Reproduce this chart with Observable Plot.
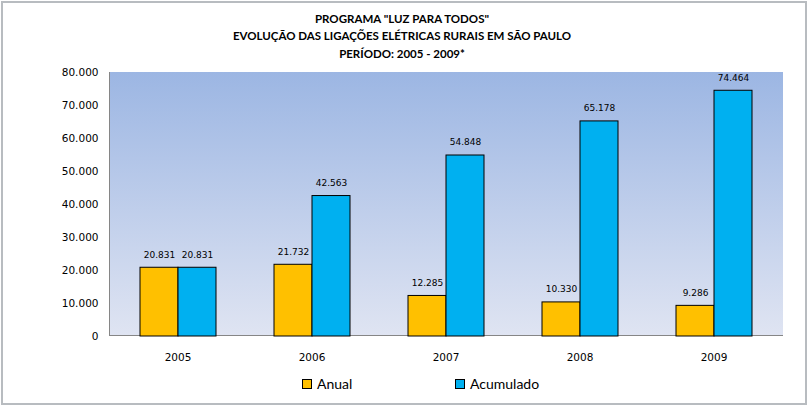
<!DOCTYPE html>
<html>
<head>
<meta charset="utf-8">
<script src="https://cdn.jsdelivr.net/npm/d3@7"></script>
<script src="https://cdn.jsdelivr.net/npm/@observablehq/plot@0.6"></script>
<style>
  html, body { margin: 0; padding: 0; background: #fff; }
  #wrap { position: relative; width: 809px; height: 407px; overflow: hidden; }
  #border { position: absolute; left: 1px; top: 1px; width: 806px; height: 404px; box-sizing: border-box; border: 2px solid #b8bcc0; }
  #title { position: absolute; left: 0; top: 10px; width: 804px; text-align: center;
           font-family: Lato, "Liberation Sans", sans-serif; font-weight: bold; font-size: 11.5px; line-height: 17.3px; color: #000; }
  #bg { position: absolute; left: 109px; top: 72px; width: 674px; height: 264px;
        background: linear-gradient(to bottom, #9cb6e3, #dfe4f2);
        border-left: 1px solid #868686; border-bottom: 1px solid #868686; box-sizing: border-box; }
  #chart { position: absolute; left: 0; top: 62px; }
  .leg { position: absolute; top: 375px; font-family: Lato, "Liberation Sans", sans-serif; font-size: 14px; color: #000; display: flex; align-items: center; }
  .sw { width: 8px; height: 8px; border: 1px solid #000; margin-right: 5px; }
</style>
</head>
<body>
<div id="wrap">
  <div id="border"></div>
  <div id="title">PROGRAMA "LUZ PARA TODOS"<br>EVOLUÇÃO DAS LIGAÇÕES ELÉTRICAS RURAIS EM SÃO PAULO<br>PERÍODO: 2005 - 2009*</div>
  <div id="bg"></div>
  <div id="chart"></div>
  <div id="legend"></div>
</div>
<script>
const years = ["2005", "2006", "2007", "2008", "2009"];
const series = ["Anual", "Acumulado"];
const anual = [20831, 21732, 12285, 10330, 9286];
const acumulado = [20831, 42563, 54848, 65178, 74464];
const colors = ["#FFC000", "#00B0F0"];
const yTicks = [0, 10000, 20000, 30000, 40000, 50000, 60000, 70000, 80000];

const fmt = d3.formatLocale({decimal: ",", thousands: ".", grouping: [3], currency: ["", ""]}).format(",d");

const data = [];
years.forEach((y, i) => {
  data.push({year: y, series: series[0], value: anual[i]});
  data.push({year: y, series: series[1], value: acumulado[i]});
});

const chart = Plot.plot({
  width: 809,
  height: 305,
  marginLeft: 138,
  marginRight: 56,
  marginTop: 10,
  marginBottom: 31,
  style: {background: "transparent", fontFamily: "'DejaVu Sans', sans-serif", fontSize: "10.5px", color: "#000"},
  fx: {domain: years, paddingInner: 0.428, paddingOuter: 0, label: null, tickSize: 0, tickPadding: 17},
  x: {domain: series, padding: 0, axis: null},
  y: {domain: [0, 80000], ticks: yTicks, tickFormat: fmt, tickSize: 0, tickPadding: 41, label: null},
  color: {domain: series, range: colors},
  marks: [
    Plot.barY(data, {fx: "year", x: "series", y: "value", fill: "series", stroke: "#000", strokeWidth: 1}),
    Plot.text(data, {fx: "year", x: "series", y: "value", text: d => fmt(d.value), dy: -13, fontSize: 9, fill: "#000"})
  ]
});
document.getElementById("chart").appendChild(chart);

const legend = document.getElementById("legend");
const legLeft = [302, 455];
series.forEach((s, i) => {
  const el = document.createElement("div");
  el.className = "leg";
  el.style.left = legLeft[i] + "px";
  el.innerHTML = `<span class="sw" style="background:${colors[i]}"></span><span>${s}</span>`;
  legend.appendChild(el);
});
</script>
</body>
</html>
